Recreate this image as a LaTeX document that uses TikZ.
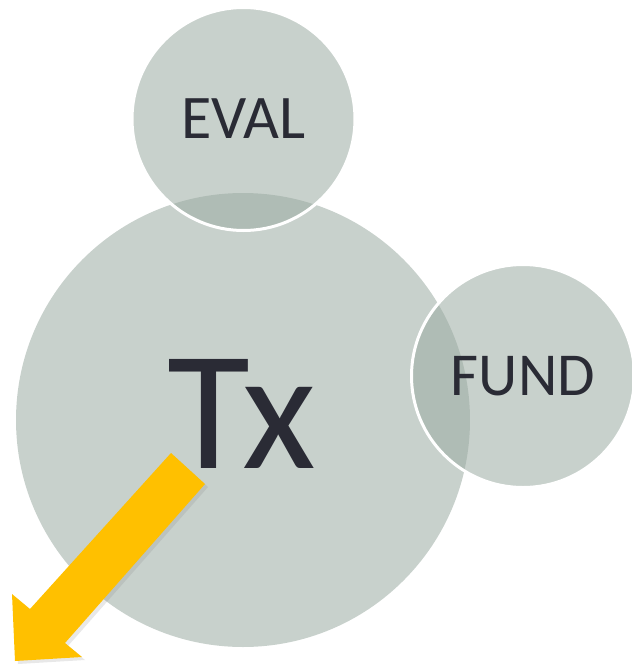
\documentclass[tikz,border=0pt]{standalone}
\usepackage{fontspec}
\setmainfont{Carlito}
\usepackage{xcolor}
\usepackage{tikz}
\usetikzlibrary{shapes,arrows,shadows}
\definecolor{bubblefill}{HTML}{9BABA2}
\definecolor{inkdark}{HTML}{2A2B35}
\definecolor{arrowgold}{HTML}{FFC000}
\tikzstyle{bubble} = [circle, fill=bubblefill, fill opacity=0.55, text opacity=1,
    text=inkdark, draw=white, line width=1.5pt, inner sep=0pt, minimum size=111.5pt]
\tikzstyle{pointer} = [fill=arrowgold, draw=none,
    drop shadow={shadow xshift=1.5pt, shadow yshift=-1.5pt, opacity=0.18}]

\begin{document}
\begin{tikzpicture}[x=0.5pt, y=-0.5pt]
    \useasboundingbox (0,0) rectangle (632,665);
    % Place nodes
    \node [bubble, draw=none, minimum size=227pt] (tx) at (243,420) {};
    \node [text=inkdark, font=\fontsize{85}{85}\selectfont] (txlabel) at (242,414) {Tx};
    \node [bubble, font=\fontsize{31}{31}\selectfont] (eval) at (243.5,119) {EVAL};
    \node [bubble, font=\fontsize{30.5}{30.5}\selectfont] (fund) at (523,376) {FUND};
    % Draw arrow
    \path [pointer] (171,453) -- (205,484) -- (65,643) -- (82,657) -- (15,661)
        -- (12,594) -- (30,609) -- cycle;
\end{tikzpicture}
\end{document}
